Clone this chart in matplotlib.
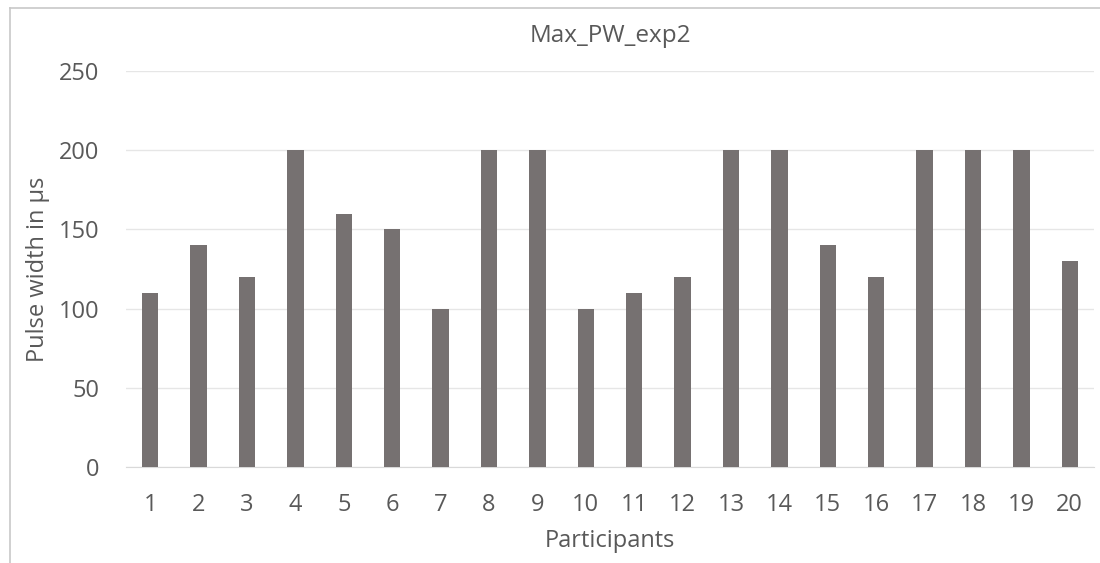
import matplotlib.pyplot as plt
from matplotlib.lines import Line2D

participants = [str(i) for i in range(1, 21)]
pulse_width = [110, 140, 120, 200, 160, 150, 100, 200, 200, 100,
               110, 120, 200, 200, 140, 120, 200, 200, 200, 130]
yticks = [0, 50, 100, 150, 200, 250]

plt.rcParams['font.family'] = ['Open Sans', 'DejaVu Sans']
txt = '#595959'

fig = plt.figure(figsize=(11, 5.63), dpi=100)
ax = fig.add_axes([126 / 1100, 1 - 467 / 563, (1094 - 126) / 1100, (467 - 71) / 563])

x = range(len(participants))
ax.bar(x, pulse_width, width=0.34, color='#767171', zorder=3)

ax.set_ylim(0, 250)
ax.set_xlim(-0.5, len(participants) - 0.5)
ax.set_yticks(yticks)
ax.set_xticks(list(x))
ax.set_xticklabels(participants)
ax.grid(axis='y', color='#e6e6e6', linewidth=1, zorder=0)
for s in ['top', 'right', 'left']:
    ax.spines[s].set_visible(False)
ax.spines['bottom'].set_color('#d9d9d9')
ax.tick_params(length=0, labelsize=17, colors=txt)
ax.tick_params(axis='x', pad=19)
ax.tick_params(axis='y', pad=19)

# axis titles and chart title, placed in pixels of the 1100x563 canvas
fig.text(38 / 1100, 1 - 269 / 563, 'Pulse width in µs', rotation=90, ha='center', va='center',
         fontsize=17, color=txt)
fig.text(0.5 * (126 + 1094) / 1100, 1 - 541 / 563, 'Participants', ha='center', va='center',
         fontsize=17, color=txt)
fig.text(0.5 * (126 + 1094) / 1100, 1 - 36 / 563, 'Max_PW_exp2', ha='center', va='center',
         fontsize=17.5, color=txt)

# chart border (cropped at right and bottom)
fig.add_artist(Line2D([10 / 1100, 10 / 1100], [0, 1 - 8 / 563], color='#c8c8c8', lw=1.2,
                      transform=fig.transFigure))
fig.add_artist(Line2D([10 / 1100, 1], [1 - 8 / 563, 1 - 8 / 563], color='#c8c8c8', lw=1.2,
                      transform=fig.transFigure))

fig.savefig('out.png', dpi=100)
